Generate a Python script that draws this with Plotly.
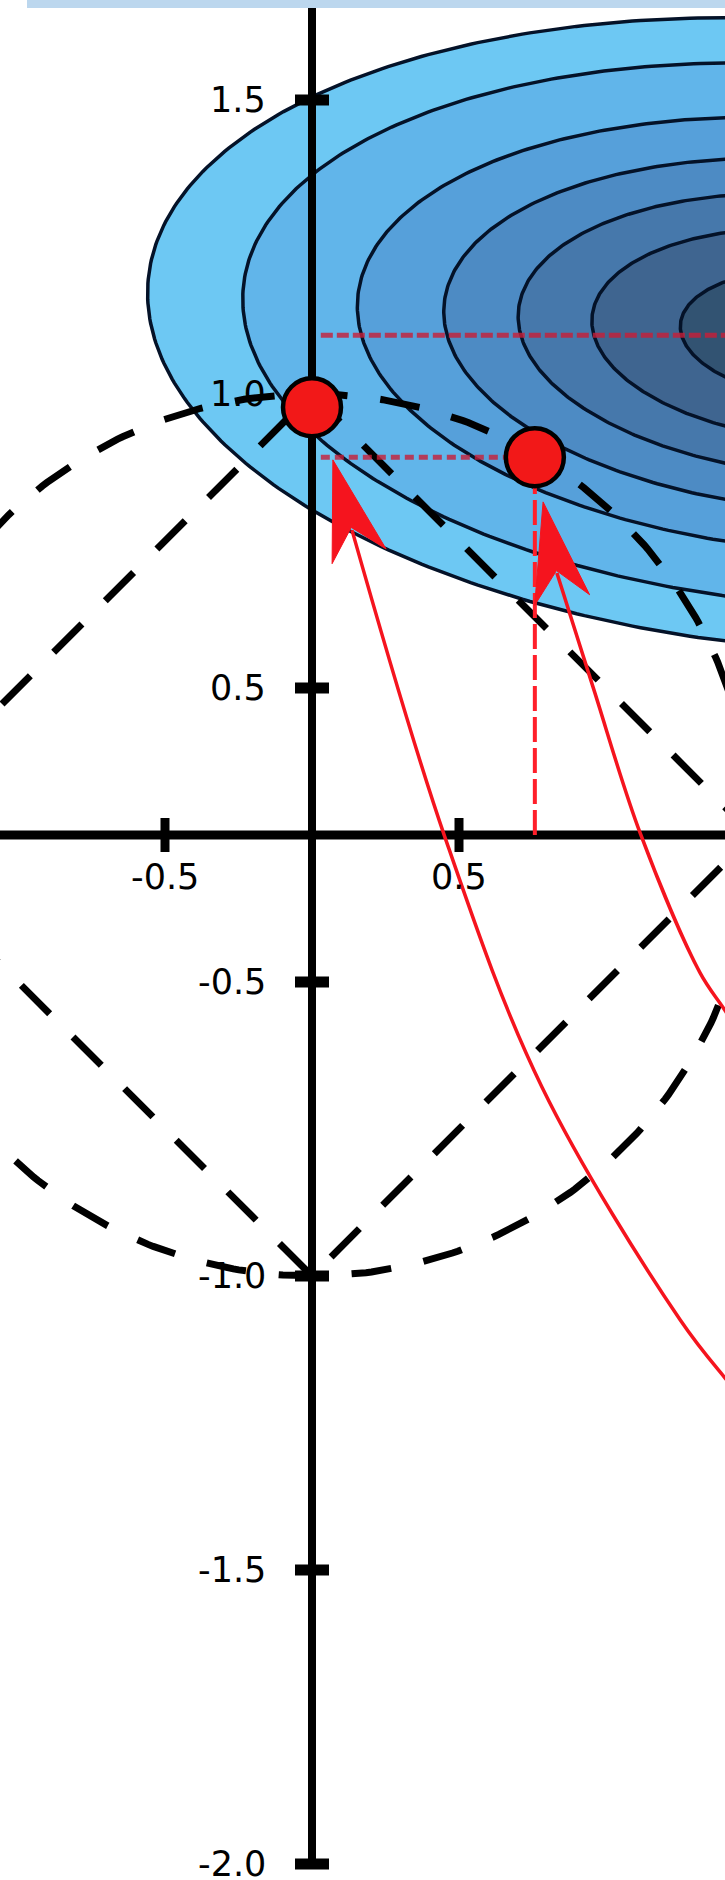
import numpy as np
import plotly.graph_objects as go

# ---------------- data (plot units) ----------------
x_ticks = [-0.5, 0.5]
x_tick_labels = ["-0.5", "0.5"]
y_ticks = [2.5, 1.5, 0.5, -0.5, -1.5, -2.5, -3.5]
y_tick_labels = ["1.5", "1.0", "0.5", "-0.5", "-1.0", "-1.5", "-2.0"]

# loss contours (rotated ellipses)
loss_center = [1.72, 1.70]
loss_semi_major = 2.285
loss_semi_minor = 1.068
loss_angle_deg = -4.6
contour_scales = [1.0, 0.858, 0.687, 0.558, 0.447, 0.337, 0.205]
contour_colors = ["#6dc8f3", "#61b5ea", "#56a0da", "#4d8bc4", "#4678ab",
                  "#3f6590", "#325372"]

# constraint regions
constraint_radius = 1.5

# solutions
dot_u = [0.0, 0.758]
dot_v = [1.455, 1.285]

# curved arrows (start -> notch -> tip)
arrow1_u = [1.531, 1.405, 1.252, 0.782, 0.452, 0.136, 0.071]
arrow1_v = [-1.990, -1.847, -1.649, -0.857, -0.007, 1.037, 1.276]
arrow2_u = [1.520, 1.405, 1.320, 1.116, 0.956, 0.833, 0.786]
arrow2_v = [-0.780, -0.597, -0.469, 0.007, 0.503, 0.891, 1.133]

# ---------------- figure ----------------
W, H = 725, 1880
PX = 294.0
ox, oy = 312.0, 835.0
xr = [-ox / PX, (W - ox) / PX]
yr = [(oy - H) / PX, oy / PX]

fig = go.Figure()

# ellipse fills + contour lines
th = np.radians(loss_angle_deg)
e1 = np.array([np.cos(th), np.sin(th)])
e2 = np.array([-np.sin(th), np.cos(th)])
t = np.linspace(0, 2 * np.pi, 500)
for s, col in zip(contour_scales, contour_colors):
    px = loss_center[0] + s * (loss_semi_major * np.cos(t) * e1[0] + loss_semi_minor * np.sin(t) * e2[0])
    py = loss_center[1] + s * (loss_semi_major * np.cos(t) * e1[1] + loss_semi_minor * np.sin(t) * e2[1])
    fig.add_trace(go.Scatter(x=px, y=py, mode="lines", fill="toself", fillcolor=col,
                             line=dict(color="#041228", width=3.5), hoverinfo="skip"))

# constraint circle and diamond (dashed)
fig.add_trace(go.Scatter(x=constraint_radius * np.cos(t), y=constraint_radius * np.sin(t),
                         mode="lines", line=dict(color="black", width=7, dash="40px,33px")))
r = constraint_radius
fig.add_trace(go.Scatter(x=[r, 0, -r, 0, r], y=[0, r, 0, -r, 0], mode="lines",
                         line=dict(color="black", width=7, dash="40px,33px")))

# axes lines
fig.add_trace(go.Scatter(x=[xr[0], xr[1]], y=[0, 0], mode="lines",
                         line=dict(color="black", width=9)))
fig.add_trace(go.Scatter(x=[0, 0], y=[y_ticks[-1], yr[1]], mode="lines",
                         line=dict(color="black", width=8)))
# tick marks as short segments
TH = 17 / PX
tx, ty = [], []
for u in x_ticks:
    tx += [u, u, None]
    ty += [-TH, TH, None]
fig.add_trace(go.Scatter(x=tx, y=ty, mode="lines", line=dict(color="black", width=9)))
tx, ty = [], []
for v in y_ticks:
    tx += [-TH, TH, None]
    ty += [v, v, None]
fig.add_trace(go.Scatter(x=tx, y=ty, mode="lines", line=dict(color="black", width=11)))

# red dashed projection lines
fig.add_trace(go.Scatter(x=[0.03, loss_center[0]], y=[loss_center[1]] * 2, mode="lines",
                         line=dict(color="rgba(200,30,55,0.8)", width=5, dash="12px,4px")))
fig.add_trace(go.Scatter(x=[0.03, dot_u[1]], y=[dot_v[1]] * 2, mode="lines",
                         line=dict(color="rgba(200,30,55,0.8)", width=5, dash="9px,5px")))
fig.add_trace(go.Scatter(x=[dot_u[1]] * 2, y=[0, dot_v[1]], mode="lines",
                         line=dict(color="#ff1f2a", width=4, dash="25px,6px")))

# curved arrows
L, HW, NOTCH = 100 / PX, 28 / PX, 70 / PX
for au, av in ((arrow1_u, arrow1_v), (arrow2_u, arrow2_v)):
    tip = np.array([au[-1], av[-1]])
    prev = np.array([au[-2], av[-2]])
    d = prev - tip
    d = d / np.linalg.norm(d)
    n = np.array([d[1], -d[0]])
    notch = tip + NOTCH * d
    fig.add_trace(go.Scatter(x=au[:-1], y=av[:-1], mode="lines", line_shape="spline",
                             line=dict(color="#f5141e", width=3.5)))
    b1 = tip + L * d + HW * n
    b2 = tip + L * d - HW * n
    fig.add_trace(go.Scatter(x=[tip[0], b1[0], notch[0], b2[0], tip[0]],
                             y=[tip[1], b1[1], notch[1], b2[1], tip[1]],
                             mode="lines", fill="toself", fillcolor="#f5141e",
                             line=dict(color="#f5141e", width=1)))

# solution dots
fig.add_trace(go.Scatter(x=dot_u, y=dot_v, mode="markers",
                         marker=dict(size=58, color="#f21818", line=dict(width=4.5, color="black"))))

# tick labels
font = dict(family="DejaVu Sans", size=35, color="black")
for v, lab in zip(y_ticks, y_tick_labels):
    fig.add_annotation(x=-0.15, y=v, text=lab, showarrow=False, xanchor="right",
                       yanchor="middle", font=font)
for u, lab in zip(x_ticks, x_tick_labels):
    fig.add_annotation(x=u, y=-0.143, text=lab, showarrow=False, xanchor="center",
                       yanchor="middle", font=font)

# top frame strip
fig.add_shape(type="rect", xref="paper", yref="paper", x0=27 / W, x1=1, y0=1 - 8 / H, y1=1,
              fillcolor="#bcd7ee", line=dict(width=0), layer="above")

fig.update_layout(width=W, height=H, margin=dict(l=0, r=0, t=0, b=0),
                  showlegend=False, plot_bgcolor="white", paper_bgcolor="white",
                  xaxis=dict(range=xr, visible=False, fixedrange=True),
                  yaxis=dict(range=yr, visible=False, fixedrange=True),
                  hovermode=False)

fig.write_html("out.html", config={"displayModeBar": False, "staticPlot": True},
               post_script="document.body.style.margin='0px';")
